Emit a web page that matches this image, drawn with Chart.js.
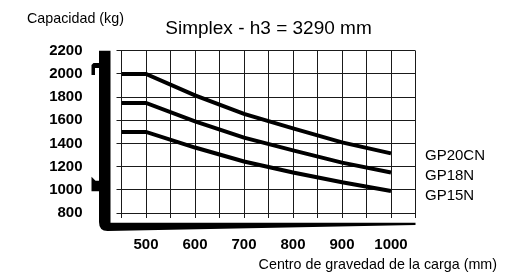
<!DOCTYPE html>
<html>
<head>
<meta charset="utf-8">
<script src="https://cdn.jsdelivr.net/npm/chart.js@4/dist/chart.umd.min.js"></script>
<style>
  html, body { margin: 0; padding: 0; background: #fff; }
  #wrap { width: 520px; height: 278px; }
</style>
</head>
<body>
<div id="wrap"><canvas id="loadChart" width="520" height="278"></canvas></div>
<script>
// load centre (mm) and capacity (kg)
const loadCentres = [450, 500, 600, 700, 800, 900, 1000];
const gp20cn = [2000, 2000, 1815, 1655, 1530, 1410, 1315];
const gp18n = [1750, 1750, 1590, 1450, 1340, 1235, 1150];
const gp15n = [1500, 1500, 1365, 1245, 1150, 1065, 990];
const seriesNames = ['GP20CN', 'GP18N', 'GP15N'];
const xTickLabels = [500, 600, 700, 800, 900, 1000];
const yTickLabels = [800, 1000, 1200, 1400, 1600, 1800, 2000, 2200];

const FONT = "'Liberation Sans Narrow', 'Liberation Sans', Arial, sans-serif";
const labelNudge = [6.5, 8, 9.5];

function toPoints(values) {
    return loadCentres.map((x, i) => ({x: x, y: values[i]}));
}

// fork outline, extra labels
const forkPlugin = {
    id: 'fork',
    afterDraw(chart) {
        const c = chart.ctx;
        const ca = chart.chartArea;
        const ys = chart.scales.y;
        const l = ca.left, b = ca.bottom;
        c.save();
        c.fillStyle = '#000';

        // upright + tine
        c.beginPath();
        c.moveTo(l - 22.5, ca.top);
        c.lineTo(l - 11, ca.top);
        c.lineTo(l - 11, b + 9.7);
        c.lineTo(ca.right, b + 9.7);
        c.lineTo(ca.right, b + 12);
        c.lineTo(l - 14, b + 18);
        c.quadraticCurveTo(l - 22.5, b + 18, l - 22.5, b + 9);
        c.closePath();
        c.fill();

        // heel at 2000
        const y2 = ys.getPixelForValue(2000);
        c.beginPath();
        c.moveTo(l - 22, y2 - 11);
        c.lineTo(l - 28, y2 - 11);
        c.lineTo(l - 30, y2 - 9);
        c.lineTo(l - 30, y2 + 1);
        c.lineTo(l - 26.5, y2 + 1);
        c.lineTo(l - 26.5, y2 - 6);
        c.lineTo(l - 22, y2 - 6);
        c.closePath();
        c.fill();

        // hook at 1000
        const y1 = ys.getPixelForValue(1000);
        c.beginPath();
        c.moveTo(l - 22, y1 - 9);
        c.lineTo(l - 26, y1 - 9);
        c.lineTo(l - 30, y1 - 13);
        c.lineTo(l - 30, y1 + 1.5);
        c.lineTo(l - 22, y1 + 1.5);
        c.closePath();
        c.fill();

        // texts
        c.textBaseline = 'alphabetic';
        c.font = '14.3px ' + FONT;
        c.textAlign = 'left';
        c.fillText('Capacidad (kg)', 27, 22.7);
        c.textAlign = 'right';
        c.fillText('Centro de gravedad de la carga (mm)', 497, 269.3);

        c.font = '15px ' + FONT;
        c.textAlign = 'left';
        chart.data.datasets.forEach((ds, i) => {
            const pts = chart.getDatasetMeta(i).data;
            const last = pts[pts.length - 1];
            c.fillText(ds.label, 425, last.y + labelNudge[i]);
        });
        c.restore();
    }
};

const gridStyle = {
    color: '#1a1a1a',
    lineWidth: 1,
    tickLength: 5,
    drawTicks: true
};

new Chart(document.getElementById('loadChart').getContext('2d'), {
    type: 'line',
    data: {
        datasets: [gp20cn, gp18n, gp15n].map((vals, i) => ({
            label: seriesNames[i],
            data: toPoints(vals),
            borderColor: '#000',
            borderWidth: 4,
            pointRadius: 0,
            tension: 0,
            fill: false
        }))
    },
    options: {
        responsive: false,
        animation: false,
        layout: {padding: {top: 0, right: 104.5, bottom: 0, left: 0}},
        plugins: {
            legend: {display: false},
            tooltip: {enabled: false},
            title: {
                display: true,
                fullSize: false,
                text: 'Simplex - h3 = 3290 mm',
                color: '#000',
                font: {family: FONT, size: 19, weight: 'normal'},
                padding: {top: 17, bottom: 11}
            }
        },
        scales: {
            x: {
                type: 'linear',
                min: 450,
                max: 1050,
                grid: gridStyle,
                border: {color: '#1a1a1a', width: 1},
                afterFit(scale) { scale.height = 65; },
                ticks: {
                    stepSize: 50,
                    autoSkip: false,
                    maxRotation: 0,
                    padding: 18,
                    color: '#000',
                    font: {family: FONT, size: 15, weight: 'bold'},
                    callback: v => xTickLabels.includes(v) ? String(v) : ''
                }
            },
            y: {
                min: 800,
                max: 2200,
                grid: gridStyle,
                border: {color: '#1a1a1a', width: 1},
                afterFit(scale) { scale.width = 121.5; },
                ticks: {
                    stepSize: 200,
                    padding: 34,
                    color: '#000',
                    font: {family: FONT, size: 15, weight: 'bold'},
                    callback: v => yTickLabels.includes(v) ? String(v) : ''
                }
            }
        }
    },
    plugins: [forkPlugin]
});
</script>
</body>
</html>
